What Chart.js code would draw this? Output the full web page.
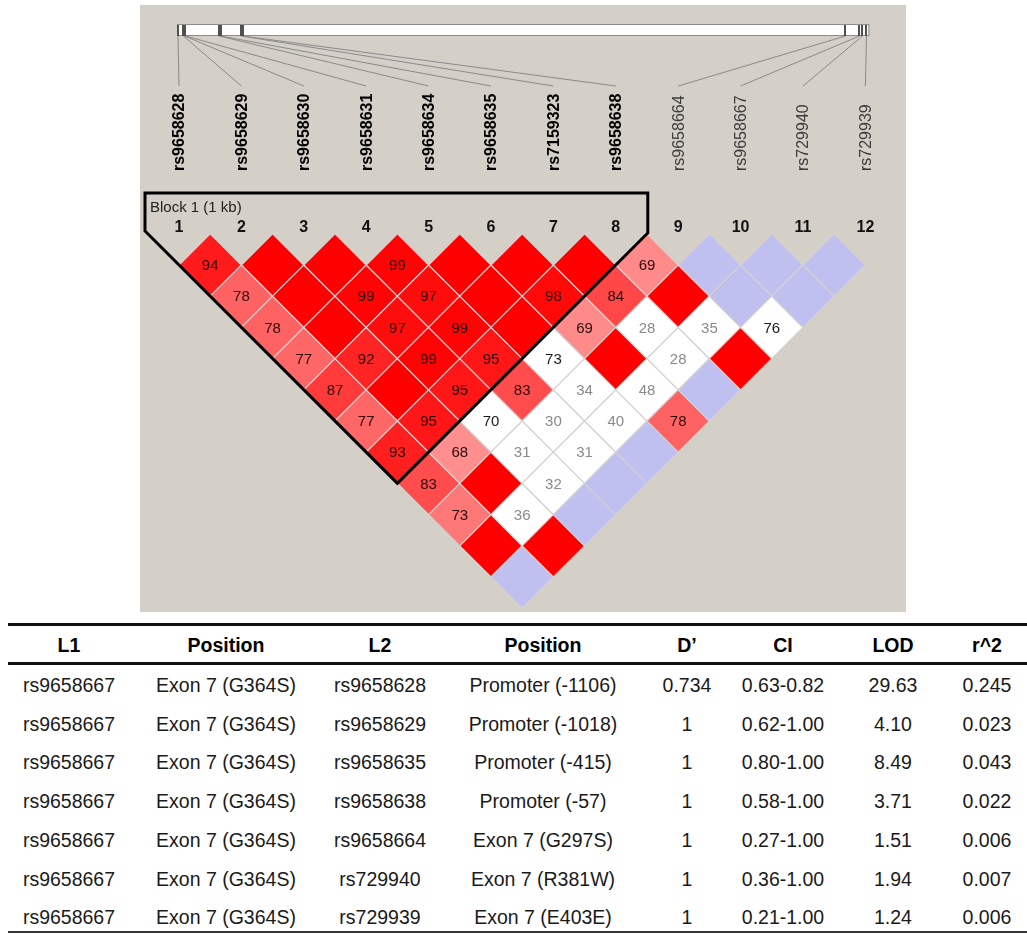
<!DOCTYPE html>
<html>
<head>
<meta charset="utf-8">
<script src="https://cdn.jsdelivr.net/npm/chart.js@4.4.0/dist/chart.umd.min.js"></script>
<style>
    html, body { margin: 0; padding: 0; background: #fff; width: 1027px; height: 934px; overflow: hidden; font-family: Arial, "Liberation Sans", sans-serif; }
    #ld { position: absolute; left: 0; top: 0; }
    .rule { position: absolute; left: 8px; width: 1019px; background: #111; }
    .cell { position: absolute; width: 200px; text-align: center; font-size: 19.5px; line-height: 20px; color: #1a1a1a; white-space: nowrap; }
    .head { font-weight: bold; color: #000; }
</style>
</head>
<body>
<canvas id="ld" width="1027" height="616"></canvas>
<div id="table"></div>
<script>
// Markers (order on the LD plot) and their physical positions (bp, relative to exon 1 start)
const snpNames = ['rs9658628', 'rs9658629', 'rs9658630', 'rs9658631', 'rs9658634', 'rs9658635',
    'rs7159323', 'rs9658638', 'rs9658664', 'rs9658667', 'rs729940', 'rs729939'];
const snpPositions = [-1106, -1018, -1000, -985, -440, -415, -80, -57, 9700, 9926, 9974, 10040];
const geneRange = [-1122, 10071];

// Haplotype block
const blockFirst = 1;
const blockLast = 8;
const blockLabel = 'Block 1 (1 kb)';

// D' x 100 for marker i against markers i+1..12
const ldDprime = [
    [94, 78, 78, 77, 87, 77, 93, 83, 73, 100, 100],
    [100, 100, 100, 92, 100, 95, 68, 100, 36, 100],
    [100, 99, 97, 99, 95, 70, 31, 32, 100],
    [99, 97, 99, 95, 83, 30, 31, 100],
    [100, 100, 100, 73, 34, 40, 100],
    [100, 98, 69, 100, 48, 78],
    [100, 84, 28, 28, 100],
    [69, 100, 35, 100],
    [100, 100, 76],
    [100, 100],
    [100]
];
// 1 = LOD >= 2, 0 = LOD < 2
const ldStrong = [
    [1, 1, 1, 1, 1, 1, 1, 1, 1, 1, 0],
    [1, 1, 1, 1, 1, 1, 1, 1, 0, 1],
    [1, 1, 1, 1, 1, 0, 0, 0, 0],
    [1, 1, 1, 1, 1, 0, 0, 0],
    [1, 1, 1, 0, 0, 0, 0],
    [1, 1, 1, 1, 0, 1],
    [1, 1, 0, 0, 0],
    [1, 1, 0, 1],
    [0, 0, 0],
    [0, 0],
    [0]
];

// Table of pairwise LD for rs9658667
const tableHeaders = ['L1', 'Position', 'L2', 'Position', 'D\u2019', 'CI', 'LOD', 'r^2'];
const tableL1 = ['rs9658667', 'rs9658667', 'rs9658667', 'rs9658667', 'rs9658667', 'rs9658667', 'rs9658667'];
const tableL1Pos = ['Exon 7 (G364S)', 'Exon 7 (G364S)', 'Exon 7 (G364S)', 'Exon 7 (G364S)', 'Exon 7 (G364S)', 'Exon 7 (G364S)', 'Exon 7 (G364S)'];
const tableL2 = ['rs9658628', 'rs9658629', 'rs9658635', 'rs9658638', 'rs9658664', 'rs729940', 'rs729939'];
const tableL2Pos = ['Promoter (-1106)', 'Promoter (-1018)', 'Promoter (-415)', 'Promoter (-57)', 'Exon 7 (G297S)', 'Exon 7 (R381W)', 'Exon 7 (E403E)'];
const tableDprime = ['0.734', '1', '1', '1', '1', '1', '1'];
const tableCI = ['0.63-0.82', '0.62-1.00', '0.80-1.00', '0.58-1.00', '0.27-1.00', '0.36-1.00', '0.21-1.00'];
const tableLOD = ['29.63', '4.10', '8.49', '3.71', '1.51', '1.94', '1.24'];
const tableR2 = ['0.245', '0.023', '0.043', '0.022', '0.006', '0.007', '0.006'];

// Haploview standard colour scheme (D' / LOD)
function ldColor(d, strong) {
    if (strong) {
        if (d >= 100) return 'rgb(255,0,0)';
        const gb = Math.round((255 - 32) * 2 * (1 - d / 100));
        return `rgb(255,${gb},${gb})`;
    }
    if (d >= 100) return 'rgb(192,192,240)';
    return '#ffffff';
}

// Build the cells: x = midpoint of the two markers, y = marker distance
const cells = [];
ldDprime.forEach((row, i) => {
    row.forEach((d, k) => {
        const a = i + 1;
        const b = i + 2 + k;
        cells.push({ x: (a + b) / 2, y: b - a, d: d, strong: ldStrong[i][k] });
    });
});

// Plot geometry
const W = 1027, H = 616;
const colX = 179, colStep = 62.4;
const rowY = 265, rowStep = 31.2;
const xMin = 1 - colX / colStep;
const yMin = 1 - rowY / rowStep;

const ldPlugin = {
    id: 'ldPlot',
    beforeDraw(chart) {
        const ctx = chart.ctx;
        ctx.save();
        ctx.fillStyle = '#ffffff';
        ctx.fillRect(0, 0, chart.width, chart.height);
        ctx.fillStyle = '#d4d0c8';
        ctx.fillRect(140, 5, 766, 607);
        ctx.restore();
    },
    afterDatasetsDraw(chart) {
        const ctx = chart.ctx;
        const xs = chart.scales.x;
        const ys = chart.scales.y;
        const half = (xs.getPixelForValue(1) - xs.getPixelForValue(0)) / 2;
        ctx.save();

        // numbers in the cells
        ctx.font = '15px Arial, "Liberation Sans", sans-serif';
        ctx.textAlign = 'center';
        ctx.textBaseline = 'middle';
        const meta = chart.getDatasetMeta(0);
        meta.data.forEach((pt, idx) => {
            const c = cells[idx];
            if (c.d >= 100) return;
            if (c.strong) ctx.fillStyle = '#2e0c0c';
            else ctx.fillStyle = c.d >= 50 ? '#1a1a1a' : '#8a8a8a';
            ctx.fillText(String(c.d), pt.x, pt.y + 1);
        });

        // block outline
        const bx = xs.getPixelForValue((blockFirst + blockLast) / 2);
        const by = ys.getPixelForValue(blockLast - blockFirst) + half;
        const xL = xs.getPixelForValue(blockFirst) - 34;
        const xR = xs.getPixelForValue(blockLast) + 32;
        const top = 193;
        ctx.strokeStyle = '#000';
        ctx.lineWidth = 3;
        ctx.lineJoin = 'miter';
        ctx.beginPath();
        ctx.moveTo(bx, by);
        ctx.lineTo(xL, by - (bx - xL));
        ctx.lineTo(xL, top);
        ctx.lineTo(xR, top);
        ctx.lineTo(xR, by - (xR - bx));
        ctx.closePath();
        ctx.stroke();

        ctx.fillStyle = '#222';
        ctx.font = '15px Arial, "Liberation Sans", sans-serif';
        ctx.textAlign = 'left';
        ctx.fillText(blockLabel, xL + 5, 208);

        // marker numbers
        ctx.fillStyle = '#111';
        ctx.font = 'bold 16px Arial, "Liberation Sans", sans-serif';
        ctx.textAlign = 'center';
        snpNames.forEach((n, i) => {
            ctx.fillText(String(i + 1), xs.getPixelForValue(i + 1), 228);
        });

        // marker names, rotated
        snpNames.forEach((n, i) => {
            const inBlock = i + 1 >= blockFirst && i + 1 <= blockLast;
            ctx.save();
            ctx.translate(xs.getPixelForValue(i + 1) + 1, 171);
            ctx.rotate(-Math.PI / 2);
            ctx.textAlign = 'left';
            ctx.textBaseline = 'middle';
            ctx.fillStyle = inBlock ? '#000' : '#3c3c3c';
            ctx.font = (inBlock ? 'bold ' : '') + '16px Arial, "Liberation Sans", sans-serif';
            ctx.fillText(n, 0, 0);
            ctx.restore();
        });

        // gene map with marker ticks and connecting lines
        const mapL = xs.getPixelForValue(1) - 2;
        const mapR = xs.getPixelForValue(12) + 3;
        const bpToPx = bp => mapL + (bp - geneRange[0]) / (geneRange[1] - geneRange[0]) * (mapR - mapL);
        ctx.fillStyle = '#ffffff';
        ctx.fillRect(mapL, 24, mapR - mapL, 12);
        ctx.strokeStyle = '#8c8c8c';
        ctx.lineWidth = 1;
        ctx.strokeRect(mapL + 0.5, 24.5, mapR - mapL, 11);

        ctx.strokeStyle = '#8a8a8a';
        ctx.lineWidth = 1;
        snpPositions.forEach((bp, i) => {
            ctx.beginPath();
            ctx.moveTo(bpToPx(bp), 36);
            ctx.lineTo(xs.getPixelForValue(i + 1), 86);
            ctx.stroke();
        });
        ctx.strokeStyle = '#505050';
        ctx.lineWidth = 2;
        snpPositions.forEach(bp => {
            const px = Math.round(bpToPx(bp));
            ctx.beginPath();
            ctx.moveTo(px, 25);
            ctx.lineTo(px, 36);
            ctx.stroke();
        });

        ctx.restore();
    }
};

new Chart(document.getElementById('ld').getContext('2d'), {
    type: 'scatter',
    data: {
        datasets: [{
            data: cells,
            pointStyle: 'rectRot',
            radius: ctx => {
                const xs = ctx.chart.scales.x;
                if (!xs || !isFinite(xs.getPixelForValue(1))) return colStep / 2;
                return (xs.getPixelForValue(1) - xs.getPixelForValue(0)) / 2;
            },
            hoverRadius: colStep / 2,
            backgroundColor: ctx => ctx.raw ? ldColor(ctx.raw.d, ctx.raw.strong) : '#fff',
            borderColor: '#d6d0d0',
            borderWidth: 1.2
        }]
    },
    options: {
        responsive: false,
        animation: false,
        events: [],
        layout: { padding: 0, autoPadding: false },
        plugins: { legend: { display: false }, tooltip: { enabled: false } },
        scales: {
            x: { type: 'linear', display: false, min: xMin, max: xMin + W / colStep },
            y: { type: 'linear', display: false, reverse: true, min: yMin, max: yMin + H / rowStep }
        }
    },
    plugins: [ldPlugin]
});

// Table below the plot
const colCenters = [69, 226, 380, 543, 687, 783, 893, 987];
const tableCols = [tableL1, tableL1Pos, tableL2, tableL2Pos, tableDprime, tableCI, tableLOD, tableR2];
const table = document.getElementById('table');
let html = '';
html += '<div class="rule" style="top:623px;height:3px"></div>';
html += '<div class="rule" style="top:662px;height:3px"></div>';
html += '<div class="rule" style="top:931px;height:2px;background:#333"></div>';
tableHeaders.forEach((h, c) => {
    html += `<div class="cell head" style="left:${colCenters[c] - 100}px;top:635px">${h}</div>`;
});
tableL1.forEach((v, r) => {
    const top = 675 + r * 38.7;
    tableCols.forEach((col, c) => {
        html += `<div class="cell" style="left:${colCenters[c] - 100}px;top:${top}px">${col[r]}</div>`;
    });
});
table.innerHTML = html;
</script>
</body>
</html>
